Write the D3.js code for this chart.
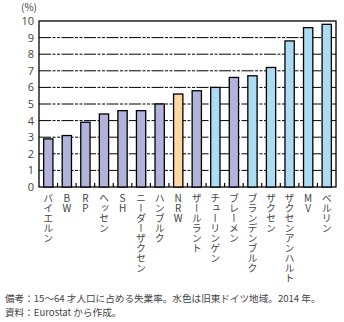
<!DOCTYPE html>
<html>
<head>
<meta charset="utf-8">
<script src="https://cdn.jsdelivr.net/npm/d3@7"></script>
<style>
  body { margin: 0; background: #fff; }
  text { font-family: "Noto Sans CJK JP", "Noto Sans", sans-serif; fill: #333; }
</style>
</head>
<body>
<div id="chart"></div>
<script>
// data
var states = ["バイエルン", "BW", "RP", "ヘッセン", "SH", "ニーダーザクセン", "ハンブルク", "NRW",
  "ザールラント", "チューリンゲン", "ブレーメン", "ブランデンブルク", "ザクセン", "ザクセンアンハルト", "MV", "ベルリン"];
var rates = [2.9, 3.1, 3.9, 4.4, 4.6, 4.6, 5.0, 5.6, 5.8, 6.0, 6.6, 6.7, 7.2, 8.8, 9.6, 9.8];
// 0 = west, 1 = NRW, 2 = former east
var group = [0, 0, 0, 0, 0, 0, 0, 1, 0, 2, 0, 2, 2, 2, 2, 2];
var yTicks = [0, 1, 2, 3, 4, 5, 6, 7, 8, 9, 10];
var colors = ["#b2b2da", "#fcd8a2", "#acdcf4"];

var margin = {top: 21, right: 8, bottom: 135, left: 39},
    width = 344 - margin.left - margin.right,
    height = 322 - margin.top - margin.bottom;

var svg = d3.select("#chart")
  .append("svg")
    .attr("width", 344)
    .attr("height", 322)
  .append("g")
    .attr("transform", "translate(" + margin.left + "," + margin.top + ")");

var x = d3.scaleBand()
  .domain(states)
  .range([0, width])
  .paddingInner(0.5)
  .paddingOuter(0.25);

var y = d3.scaleLinear()
  .domain([0, 10])
  .range([height, 0]);

// grid lines (dash-dot-dot)
svg.selectAll(".grid")
  .data(yTicks.slice(1, -1))
  .enter().append("line")
    .attr("x1", 0)
    .attr("x2", width)
    .attr("y1", function(d) { return y(d); })
    .attr("y2", function(d) { return y(d); })
    .style("stroke", "#000")
    .style("stroke-width", 1)
    .style("stroke-dasharray", "12,1.5,3,1.5,3,1.5");

// frame
svg.append("rect")
  .attr("width", width)
  .attr("height", height)
  .style("fill", "none")
  .style("stroke", "#000")
  .style("stroke-width", 1.3);

// bars
svg.selectAll(".bar")
  .data(states)
  .enter().append("rect")
    .attr("x", function(d) { return x(d); })
    .attr("width", x.bandwidth())
    .attr("y", function(d, i) { return y(rates[i]); })
    .attr("height", function(d, i) { return height - y(rates[i]); })
    .style("fill", function(d, i) { return colors[group[i]]; })
    .style("stroke", "#000")
    .style("stroke-width", 1.3);

// category boundary ticks pointing up from the baseline
var step = x.step();
svg.selectAll(".xtick")
  .data(d3.range(1, states.length))
  .enter().append("line")
    .attr("x1", function(d) { return d * step; })
    .attr("x2", function(d) { return d * step; })
    .attr("y1", height)
    .attr("y2", height - 4)
    .style("stroke", "#000")
    .style("stroke-width", 1.2);

// y axis labels
var yAxis = svg.append("g")
  .call(d3.axisLeft(y).tickValues(yTicks).tickSize(0).tickPadding(5));
yAxis.select(".domain").remove();
yAxis.selectAll("text")
  .style("font-size", "11px")
  .style("fill", "#444")
  .style("font-family", "'Open Sans', 'Noto Sans', sans-serif");

svg.append("text")
  .attr("x", -18)
  .attr("y", -10)
  .style("font-size", "10px")
  .style("fill", "#444")
  .text("(%)");

// vertical category labels
svg.selectAll(".xlab")
  .data(states)
  .enter().append("text")
    .attr("x", function(d) { return x(d) + x.bandwidth() / 2; })
    .attr("y", height + 6)
    .style("writing-mode", "vertical-rl")
    .style("text-orientation", "upright")
    .style("font-size", "10px")
    .style("fill", "#444")
    .text(function(d) { return d; });

// notes
var notes = d3.select("svg");
notes.append("text")
  .attr("x", 5)
  .attr("y", 302)
  .style("font-size", "9.6px")
  .style("fill", "#444")
  .text("備考：15～64 才人口に占める失業率。水色は旧東ドイツ地域。2014 年。");
notes.append("text")
  .attr("x", 5)
  .attr("y", 316)
  .style("font-size", "9.6px")
  .style("fill", "#444")
  .text("資料：Eurostat から作成。");
</script>
</body>
</html>
